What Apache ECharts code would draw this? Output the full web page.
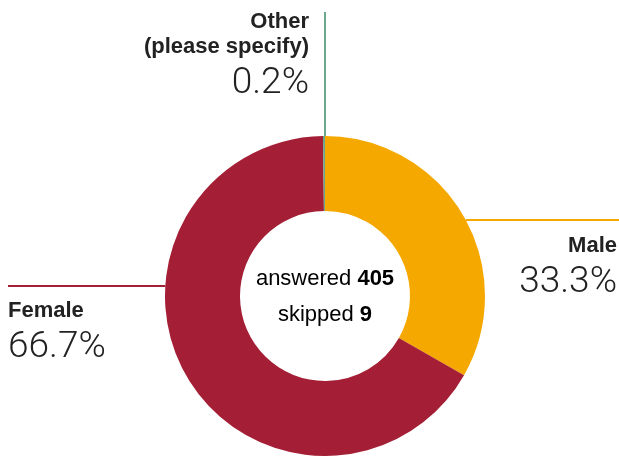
<!DOCTYPE html>
<html>
<head>
<meta charset="utf-8">
<script src="https://cdn.jsdelivr.net/npm/echarts@6/dist/echarts.min.js"></script>
<style>
  html, body { margin: 0; padding: 0; background: #fff; }
  #chart { width: 619px; height: 456px; }
</style>
</head>
<body>
<div id="chart"></div>
<script>
// Gender breakdown of respondents
const categories = ['Male', 'Female', 'Other\n(please specify)'];
const shares = [33.3, 66.7, 0.2];
const answered = 405;
const skipped = 9;

const colors = ['#F5A800', '#A41F35', '#6BA78A'];
const CX = 325, CY = 296, R_IN = 85, R_OUT = 160;

// Where each label block sits, and the row its leader line runs along
function layoutFor(i) {
  if (i === 0) {
    const ly = 220;
    const x0 = CX + Math.sqrt(R_OUT * R_OUT - (ly - CY) * (ly - CY));
    return { x: 617, y: 233, align: 'right', verticalAlign: 'top',
             labelLinePoints: [[x0, ly], [619, ly], [619, ly]] };
  }
  if (i === 1) {
    const ly = 286;
    const x0 = CX - Math.sqrt(R_OUT * R_OUT - (ly - CY) * (ly - CY));
    return { x: 8, y: 298, align: 'left', verticalAlign: 'top',
             labelLinePoints: [[x0, ly], [8, ly], [8, ly]] };
  }
  return { x: 309, y: 9, align: 'right', verticalAlign: 'top',
           labelLinePoints: [[CX, CY - R_OUT], [CX, 12], [CX, 12]] };
}

const chart = echarts.init(document.getElementById('chart'), null, { renderer: 'canvas' });
chart.setOption({
  animation: false,
  color: colors,
  series: [{
    type: 'pie',
    center: [CX, CY],
    radius: [R_IN, R_OUT],
    startAngle: 90,
    clockwise: true,
    avoidLabelOverlap: false,
    minShowLabelAngle: 0,
    data: categories.map((name, i) => ({ name: name, value: shares[i] })),
    itemStyle: { borderWidth: 0 },
    label: {
      show: true,
      position: 'outside',
      formatter: p => p.name.split('\n').map(s => '{n|' + s + '}').join('\n') +
                      '\n{p|' + p.value.toFixed(1) + '%}',
      rich: {
        n: { fontFamily: 'Liberation Sans', fontWeight: 'bold', fontSize: 22,
             lineHeight: 25, color: '#222' },
        p: { fontFamily: 'Roboto', fontWeight: 300, fontSize: 37,
             lineHeight: 50, color: '#222' }
      }
    },
    labelLine: {
      show: true,
      smooth: false,
      lineStyle: { width: 2 }
    },
    labelLayout: params => layoutFor(params.dataIndex),
    emphasis: { disabled: true }
  }],
  graphic: [{
    type: 'text',
    x: CX,
    y: CY + 1,
    z: 100,
    style: {
      x: 0,
      y: 0,
      align: 'center',
      verticalAlign: 'middle',
      text: '{r|answered }{b|' + answered + '}\n{r|skipped }{b|' + skipped + '}',
      rich: {
        r: { fontFamily: 'Liberation Sans', fontSize: 22, lineHeight: 36, color: '#222' },
        b: { fontFamily: 'Liberation Sans', fontWeight: 'bold', fontSize: 22, lineHeight: 36, color: '#222' }
      }
    }
  }]
});
</script>
</body>
</html>
